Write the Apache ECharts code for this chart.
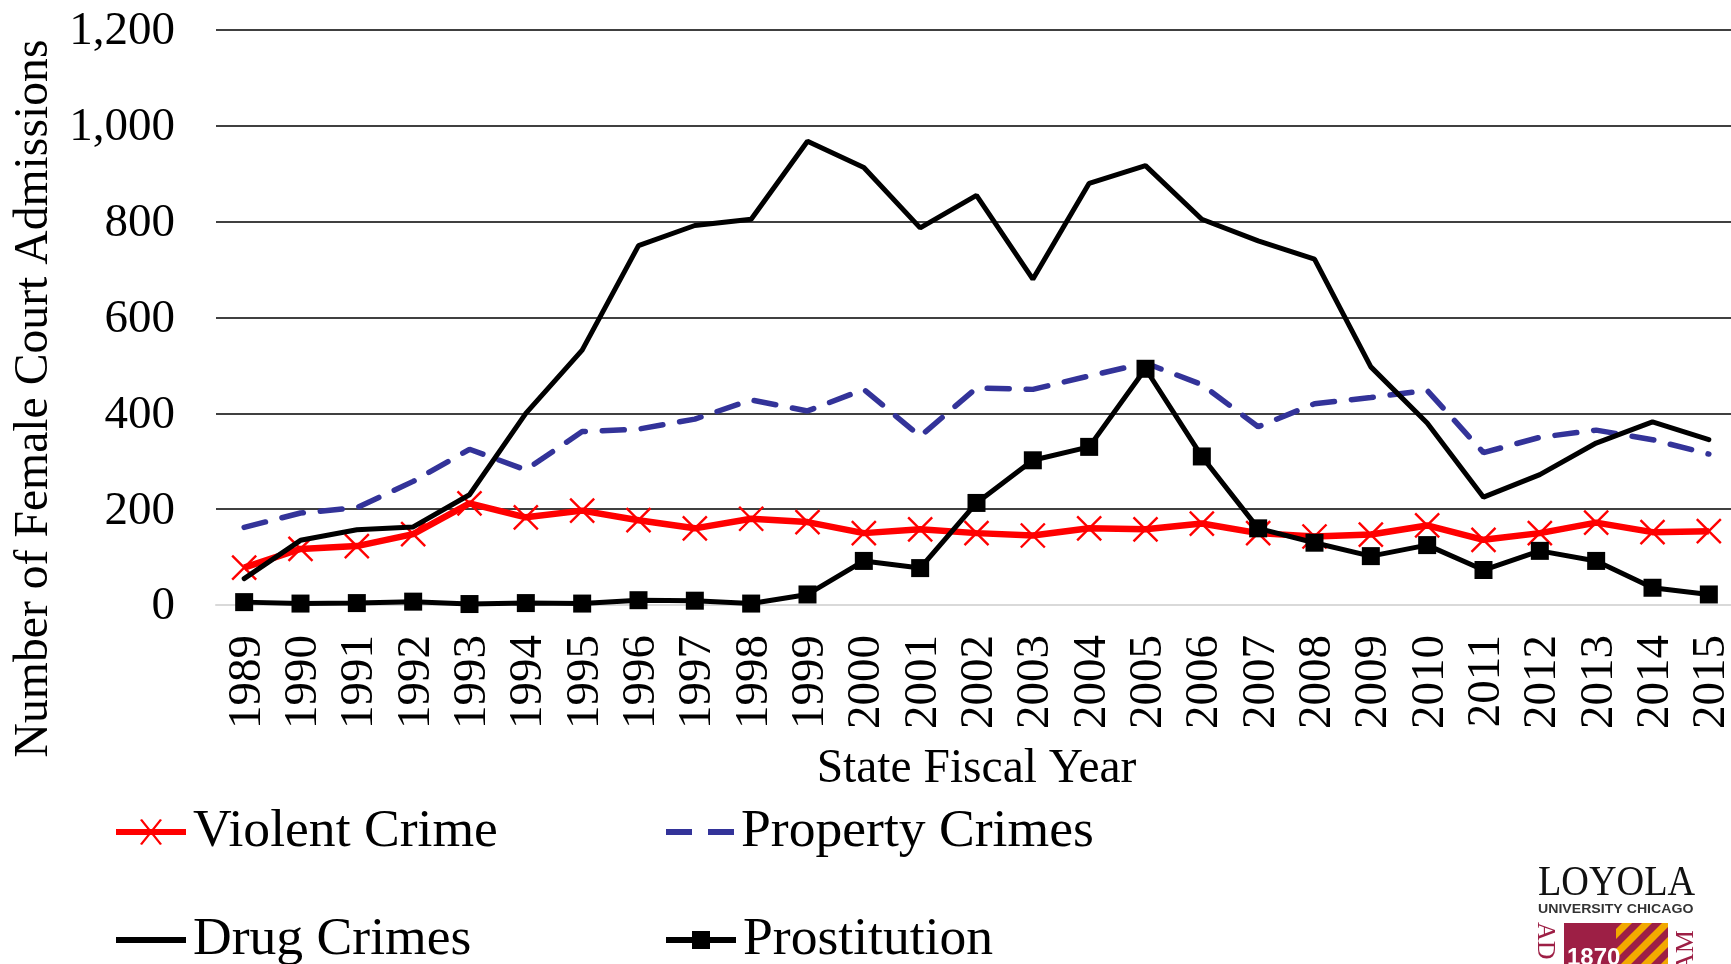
<!DOCTYPE html>
<html><head><meta charset="utf-8">
<style>html,body{margin:0;padding:0;background:#fff;overflow:hidden}#c{width:1731px;height:964px}</style>
<script src="https://cdn.jsdelivr.net/npm/echarts@6/dist/echarts.min.js"></script>
</head><body><div id="c"></div>
<script>
const years=[1989,1990,1991,1992,1993,1994,1995,1996,1997,1998,1999,2000,2001,2002,2003,2004,2005,2006,2007,2008,2009,2010,2011,2012,2013,2014,2015];
const violentCrime=[78,117,123,148,212,183,197,177,160,180,173,150,158,150,145,160,158,170,150,143,147,166,136,150,172,152,154];
const propertyCrimes=[162,192,203,258,325,282,362,367,388,428,405,450,352,453,450,478,505,460,372,420,433,448,318,350,365,345,315];
const drugCrimes=[55,135,157,163,230,400,532,750,792,805,968,913,787,855,680,880,917,805,760,722,497,380,225,272,338,382,345];
const prostitution=[6,3,4,7,2,4,3,10,9,3,22,92,77,213,302,330,493,310,160,130,102,125,73,113,92,36,22];
const F='"Liberation Serif","Times New Roman",serif';
const chart=echarts.init(document.getElementById('c'),null,{renderer:'canvas'});
const tile=document.createElement('canvas');tile.width=tile.height=20;
const g=tile.getContext('2d');g.fillStyle='#f2a900';g.fillRect(0,0,20,20);g.strokeStyle='#9d1f45';g.lineWidth=7;
[[-10,10,10,-10],[0,20,20,0],[10,30,30,10]].forEach(l=>{g.beginPath();g.moveTo(l[0],l[1]);g.lineTo(l[2],l[3]);g.stroke();});
const legendCommon={orient:'horizontal',itemWidth:70,itemHeight:26,itemGap:7,padding:0,textStyle:{fontFamily:F,fontSize:53.6,color:'#000',padding:[0,0,0,2]},selectedMode:false};
const X='path://M0,0L10,10M10,0L0,10';
const iconViolent='path://M0,10H70V16H0Z M24,1L26,0L46,25L44,26Z M44,0L46,1L26,26L24,25Z';
const iconProperty='path://M0,0H26V6H0Z M42,0H68V6H42Z';
const iconPlain='path://M0,0H70V6H0Z';
const iconProst='path://M0,6H26V0H44V6H70V12H44V18H26V12H0Z';
chart.setOption({
 animation:false,backgroundColor:'#fff',
 grid:{left:216,top:30,width:1521,height:575,outerBoundsMode:'none'},
 legend:[
  Object.assign({},legendCommon,{data:[{name:'Violent Crime',icon:iconViolent,itemStyle:{color:'#ff0000',borderWidth:0}}],left:116,top:805}),
  Object.assign({},legendCommon,{itemWidth:68,itemHeight:6,data:[{name:'Property Crimes',icon:iconProperty,itemStyle:{color:'#333399',borderWidth:0}}],left:666,top:805}),
  Object.assign({},legendCommon,{itemHeight:6,data:[{name:'Drug Crimes',icon:iconPlain,itemStyle:{color:'#000',borderWidth:0}}],left:116,top:913}),
  Object.assign({},legendCommon,{itemHeight:18,data:[{name:'Prostitution',icon:iconProst,itemStyle:{color:'#000',borderWidth:0}}],left:666,top:913})
 ],
 xAxis:{type:'category',data:years,boundaryGap:true,
  name:'State Fiscal Year',nameLocation:'middle',nameGap:141,
  nameTextStyle:{fontFamily:F,fontSize:47.5,color:'#000'},
  axisLine:{show:true,lineStyle:{color:'#d9d9d9',width:2}},axisTick:{show:false},
  axisLabel:{rotate:90,interval:0,fontFamily:F,fontSize:47,color:'#000',margin:30,verticalAlign:'top',lineHeight:6}},
 yAxis:{type:'value',min:0,max:1200,interval:200,
  name:'Number of Female Court Admissions',nameLocation:'middle',nameGap:157,
  nameTextStyle:{fontFamily:F,fontSize:47.7,color:'#000',padding:[0,162,0,0]},
  axisLine:{show:false},axisTick:{show:false},
  axisLabel:{fontFamily:F,fontSize:47,color:'#000',margin:41,verticalAlign:'top',lineHeight:4,formatter:v=>v.toLocaleString('en-US')},
  splitLine:{show:true,showMinLine:false,lineStyle:{color:'#000',width:1.5}}},
 series:[
  {name:'Violent Crime',type:'line',data:violentCrime,z:3,symbol:X,symbolSize:24,showSymbol:true,
   color:'#ff0000',lineStyle:{color:'#ff0000',width:6.5},
   itemStyle:{color:'none',borderColor:'#ff0000',borderWidth:2.4}},
  {name:'Property Crimes',type:'line',data:propertyCrimes,z:2,symbol:'none',color:'#333399',
   lineStyle:{color:'#333399',width:5.5,type:[22,17],cap:'round'}},
  {name:'Drug Crimes',type:'line',data:drugCrimes,z:4,symbol:'none',color:'#000',
   lineStyle:{color:'#000',width:5,cap:'round'}},
  {name:'Prostitution',type:'line',data:prostitution,z:5,symbol:'rect',symbolSize:18,color:'#000',
   lineStyle:{color:'#000',width:5},itemStyle:{color:'#000'}}
 ],
 graphic:[
  {type:'text',x:1538,y:863,scaleX:0.91,style:{text:'LOYOLA',font:'42px "Liberation Serif"',fill:'#111'}},
  {type:'text',x:1538,y:903,scaleX:1.13,style:{text:'UNIVERSITY CHICAGO',font:'bold 12.5px "Liberation Sans"',fill:'#333'}},
  {type:'rect',shape:{x:1564,y:923,width:52,height:41},style:{fill:'#9d1f45'}},
  {type:'rect',shape:{x:1616,y:923,width:52,height:41},style:{fill:{image:tile,repeat:'repeat'}}},
  {type:'text',x:1567,y:946,style:{text:'1870',font:'bold 24px "Liberation Sans"',fill:'#fff'}},
  {type:'text',x:1558,y:922,rotation:-Math.PI/2,style:{text:'AD',font:'26px "Liberation Serif"',fill:'#9d1f45'}},
  {type:'text',x:1673,y:972,rotation:Math.PI/2,style:{text:'AM',font:'26px "Liberation Serif"',fill:'#9d1f45'}}
 ]
});
</script></body></html>
